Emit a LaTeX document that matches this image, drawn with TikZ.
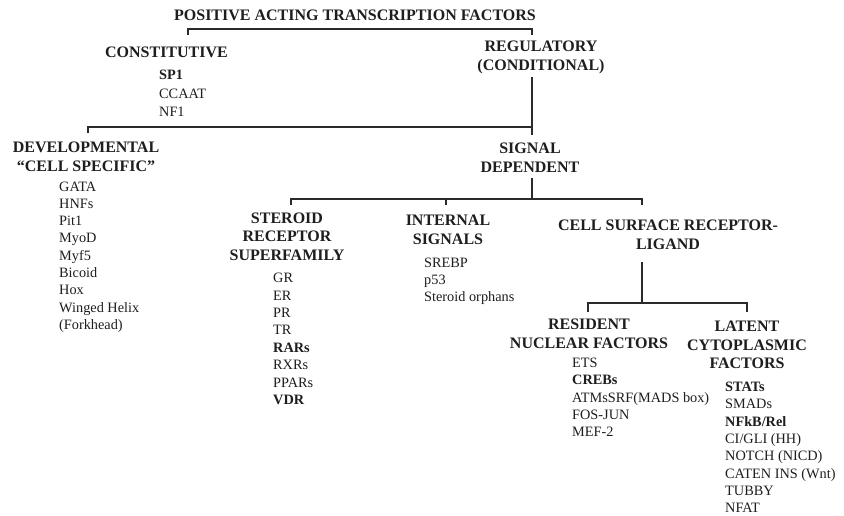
\documentclass[tikz,border=0pt]{standalone}
\usepackage{fontspec}
\setmainfont{Liberation Serif}
\definecolor{ink}{HTML}{1E1E1E}
\definecolor{wire}{HTML}{2A2A2A}
\begin{document}
\begin{tikzpicture}[x=1pt,y=-1pt,
  head/.style={font=\fontsize{16}{18.6}\selectfont\bfseries, align=center, inner sep=0pt, text=ink},
  items/.style={font=\fontsize{14.3}{17.3}\selectfont, align=left, anchor=west, inner sep=0pt, text=ink},
  link/.style={draw=wire, line width=1.1pt}]
\useasboundingbox[fill=white] (0,0) rectangle (844,515);

% headings
\node[head] (title) at (355,15) {POSITIVE ACTING TRANSCRIPTION FACTORS};
\node[head] (cons) at (166.5,52) {CONSTITUTIVE};
\node[head] (reg) at (541,57.5) {REGULATORY\\(CONDITIONAL)};
\node[head] (dev) at (86,156.5) {DEVELOPMENTAL\\“CELL SPECIFIC”};
\node[head] (sig) at (530,158) {SIGNAL\\DEPENDENT};
\node[head] (ster) at (287,236.5) {STEROID\\RECEPTOR\\SUPERFAMILY};
\node[head] (int) at (448,230) {INTERNAL\\SIGNALS};
\node[head] (cell) at (668,234.5) {CELL SURFACE RECEPTOR-\\LIGAND};
\node[head] (res) at (589,334) {RESIDENT\\NUCLEAR FACTORS};
\node[head] (lat) at (747,345) {LATENT\\CYTOPLASMIC\\FACTORS};

% item lists
\node[items, font=\fontsize{14.3}{18.5}\selectfont] (consl) at (159,93.5) {\textbf{SP1}\\CCAAT\\NF1};
\node[items] (devl) at (59,257) {GATA\\HNFs\\Pit1\\MyoD\\Myf5\\Bicoid\\Hox\\Winged Helix\\(Forkhead)};
\node[items, font=\fontsize{14.3}{17.4}\selectfont] (sterl) at (273,339) {GR\\ER\\PR\\TR\\\textbf{RARs}\\RXRs\\PPARs\\\textbf{VDR}};
\node[items, font=\fontsize{14.3}{17}\selectfont] (intl) at (424,281) {SREBP\\p53\\Steroid orphans};
\node[items] (resl) at (572,397.5) {ETS\\\textbf{CREBs}\\ATMsSRF(MADS box)\\FOS-JUN\\MEF-2};
\node[items] (latl) at (725,447.5) {\textbf{STATs}\\SMADs\\\textbf{NFkB/Rel}\\CI/GLI (HH)\\NOTCH (NICD)\\CATEN INS (Wnt)\\TUBBY\\NFAT};

% junction coordinates
\coordinate (a1) at (188,35);
\coordinate (a2) at (532,35);
\coordinate (r1) at (532,77);
\coordinate (r2) at (532,127);
\coordinate (d1) at (88,133);
\coordinate (s0) at (532,135);
\coordinate (s1) at (532,178);
\coordinate (s2) at (532,199);
\coordinate (k1) at (291,205);
\coordinate (k2) at (446,205);
\coordinate (k3) at (642,205);
\coordinate (c1) at (642,262);
\coordinate (c2) at (642,303);
\coordinate (n1) at (588,312);
\coordinate (n2) at (747,312);

% connectors
\draw[link] (a1) -- ++(0,-6) -| (a2);
\draw[link] (r1) -- (r2) -| (d1);
\draw[link] (r2) -- (s0);
\draw[link] (s1) -- (s2);
\draw[link] (k1) |- (s2) -| (k3);
\draw[link] (k2) -- (k2 |- s2);
\draw[link] (c1) -- (c2);
\draw[link] (n1) |- (c2) -| (n2);
\end{tikzpicture}
\end{document}
